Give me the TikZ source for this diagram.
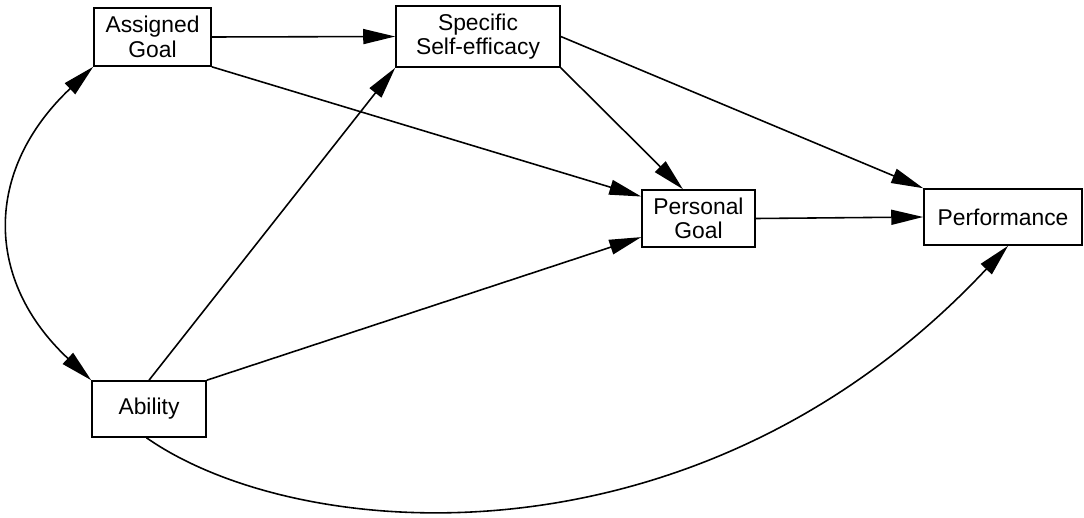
\documentclass[tikz,border=0pt]{standalone}
\usepackage{fontspec}
\setmainfont{Liberation Sans}
\usetikzlibrary{arrows.meta,positioning,calc}

\begin{document}
\begin{tikzpicture}[
        x=0.02cm, y=-0.02cm,
        every node/.style={font=\fontsize{13}{14}\selectfont},
        box/.style={rectangle, draw, line width=0.9pt, align=center, inner sep=2pt},
        path/.style={-{Triangle[length=0.64cm,width=0.3cm]}, line width=0.9pt},
        twoway/.style={{Triangle[length=0.64cm,width=0.3cm]}-{Triangle[length=0.64cm,width=0.3cm]}, line width=0.9pt}
    ]
        \useasboundingbox (0,0) rectangle (1084,517);

        \node[box, minimum width=2.34cm, minimum height=1.16cm] (assigned) at (152.5,37) {Assigned\\Goal};
        \node[box, minimum width=3.28cm, minimum height=1.22cm] (efficacy) at (478,36.5) {Specific\\Self-efficacy};
        \node[box, minimum width=2.26cm, minimum height=1.14cm] (personal) at (698.5,218.5) {Personal\\Goal};
        \node[box, minimum width=3.16cm, minimum height=1.12cm] (perf) at (1003,217) {Performance};
        \node[box, minimum width=2.28cm, minimum height=1.12cm] (ability) at (149,409) {Ability};

        \draw[path] (assigned.east) -- (efficacy.west);
        \draw[path] (assigned.south east) -- (personal.159);
        \draw[path] (efficacy.south east) -- (personal.118);
        \draw[path] (efficacy.east) -- (perf.north west);
        \draw[path] (personal.east) -- (perf.west);
        \draw[path] (ability.north) -- (efficacy.south west);
        \draw[path] (ability.north east) -- (personal.198);

        % curved paths
        \draw[twoway] (assigned.south west) .. controls (-16,170) and (-16,280) .. (ability.north west);
        \draw[path] (ability.265) .. controls (300,545) and (700,575) .. (perf.280);
    \end{tikzpicture}
\end{document}
